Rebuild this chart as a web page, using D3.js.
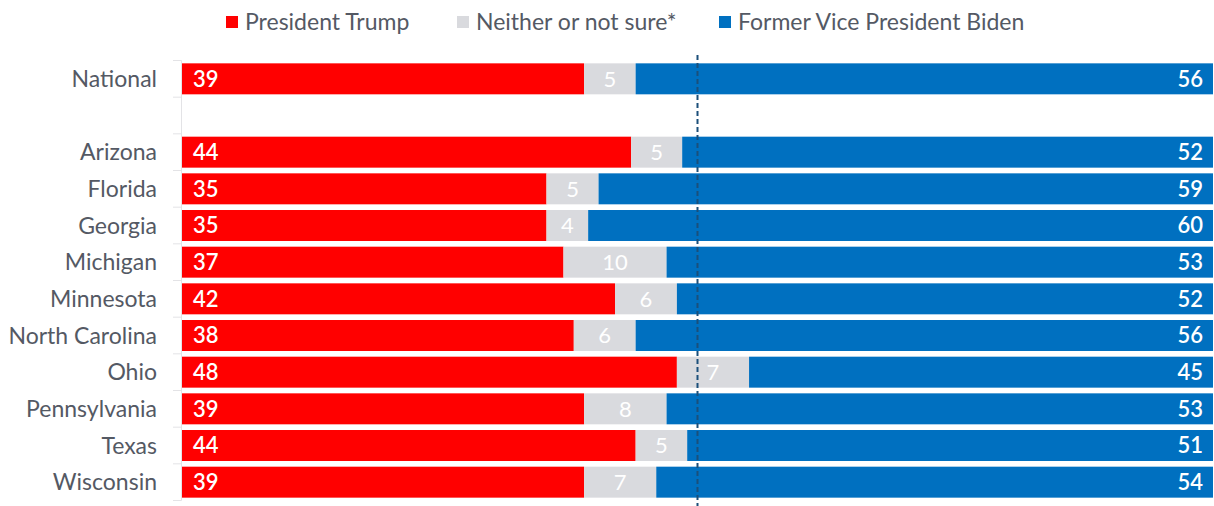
<!DOCTYPE html>
<html>
<head>
<meta charset="utf-8">
<script src="https://cdn.jsdelivr.net/npm/d3@7"></script>
<style>
  html, body { margin: 0; padding: 0; background: #fff; }
  svg { display: block; font-family: Lato, "Open Sans", sans-serif; }
</style>
</head>
<body>
<svg id="chart" width="1214" height="506"></svg>
<script>
// Rows, top to bottom; the empty entry leaves a gap under the national figure
const categories = ["National", "", "Arizona", "Florida", "Georgia", "Michigan", "Minnesota",
  "North Carolina", "Ohio", "Pennsylvania", "Texas", "Wisconsin"];
const trump   = [39, null, 44, 35, 35, 37, 42, 38, 48, 39, 44, 39];
const neither = [5,  null, 5,  5,  4,  10, 6,  6,  7,  8,  5,  7];
const biden   = [56, null, 52, 59, 60, 53, 52, 56, 45, 53, 51, 54];
const seriesNames = ["President Trump", "Neither or not sure*", "Former Vice President Biden"];
const seriesColors = ["#ff0000", "#d9dade", "#0070c0"];
const midpoint = 50;

const svg = d3.select("#chart");
const W = 1214, H = 506;
const left = 182, right = 1213;

const x = d3.scaleLinear().domain([0, 100]).range([left, right]);
const y = d3.scaleBand().domain(d3.range(categories.length))
  .range([60.5, 500.5]).paddingInner(0.155).paddingOuter(0.0775);

// Category axis: light line with ticks at the row boundaries
const axisG = svg.append("g");
axisG.append("line")
  .attr("x1", left - 0.5).attr("x2", left - 0.5)
  .attr("y1", y.range()[0]).attr("y2", y.range()[1])
  .attr("stroke", "#e3e3e6").attr("stroke-width", 1);
d3.range(categories.length + 1).forEach(i => {
  const yy = y.range()[0] + i * y.step();
  axisG.append("line")
    .attr("x1", left - 9).attr("x2", left - 0.5)
    .attr("y1", yy).attr("y2", yy)
    .attr("stroke", "#e3e3e6").attr("stroke-width", 1);
});

svg.append("g").selectAll("text")
  .data(categories)
  .join("text")
  .attr("x", 157)
  .attr("y", (d, i) => y(i) + y.bandwidth() / 2)
  .attr("dy", "0.35em")
  .attr("text-anchor", "end")
  .attr("font-size", 23)
  .attr("fill", "#545964")
  .text(d => d);

// Stacked bars, each row scaled to its own total
const rows = categories.map((c, i) => ({ i, vals: [trump[i], neither[i], biden[i]] }))
  .filter(r => r.vals[0] != null);

const barG = svg.append("g");
rows.forEach(r => {
  const total = d3.sum(r.vals);
  let acc = 0;
  r.vals.forEach((v, k) => {
    const x0 = x(acc / total * 100), x1 = x((acc + v) / total * 100);
    acc += v;
    barG.append("rect")
      .attr("x", x0).attr("width", x1 - x0)
      .attr("y", y(r.i)).attr("height", y.bandwidth())
      .attr("fill", seriesColors[k]);
    const t = barG.append("text")
      .attr("y", y(r.i) + y.bandwidth() / 2)
      .attr("dy", "0.36em")
      .attr("font-size", 22)
      .attr("font-weight", 600)
      .attr("fill", "#ffffff")
      .text(v);
    if (k === 0) t.attr("x", x0 + 11).attr("text-anchor", "start");
    else if (k === 1) t.attr("x", (x0 + x1) / 2).attr("text-anchor", "middle").attr("font-weight", 400);
    else t.attr("x", x1 - 10).attr("text-anchor", "end");
  });
});

// 50% reference line
svg.append("line")
  .attr("x1", Math.round(x(midpoint)) - 0.5).attr("x2", Math.round(x(midpoint)) - 0.5)
  .attr("y1", 55).attr("y2", H)
  .attr("stroke", "#1b4f7a").attr("stroke-width", 2)
  .attr("stroke-dasharray", "5,3");

// Legend
const legendX = [226, 457, 719];
const legend = svg.append("g");
seriesNames.forEach((name, k) => {
  legend.append("rect")
    .attr("x", legendX[k]).attr("y", 16)
    .attr("width", 12).attr("height", 12)
    .attr("fill", seriesColors[k]);
  legend.append("text")
    .attr("x", legendX[k] + 19).attr("y", 22)
    .attr("dy", "0.35em")
    .attr("font-size", 23)
    .attr("fill", "#545964")
    .text(name);
});
</script>
</body>
</html>
